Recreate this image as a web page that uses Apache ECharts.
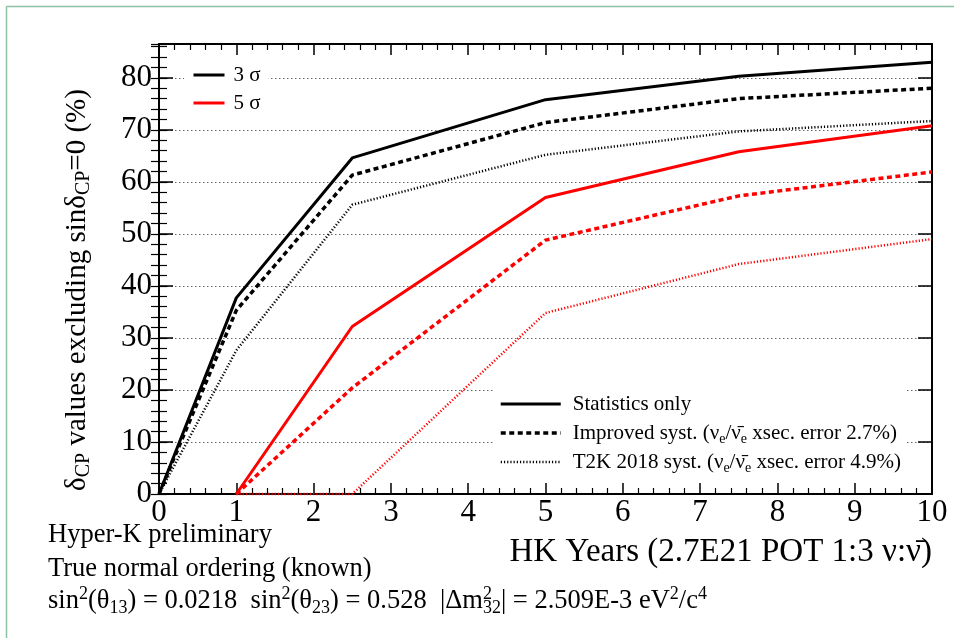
<!DOCTYPE html>
<html>
<head>
<meta charset="utf-8">
<script src="https://cdn.jsdelivr.net/npm/echarts@6/dist/echarts.min.js"></script>
<style>
  html, body { margin: 0; padding: 0; background: #fff; }
  #chart { width: 954px; height: 638px; }
</style>
</head>
<body>
<div id="chart"></div>
<script>
// HK running time in years
const yearsAll = [0, 1, 2.5, 5, 7.5, 10];
const years5 = [1, 2.5, 5, 7.5, 10];

// Fraction of delta_CP values excluding sin(delta_CP)=0, in percent
const sig3Stat     = [0, 37.7, 64.6, 75.8, 80.3, 83.0];
const sig3Improved = [0, 35.3, 61.3, 71.4, 76.0, 78.0];
const sig3T2K      = [0, 27.6, 55.6, 65.2, 69.7, 71.7];
const sig5Stat     = [0, 32.2, 57.0, 65.8, 70.8];
const sig5Improved = [0, 20.4, 48.8, 57.3, 61.9];
const sig5T2K      = [0, 0, 34.8, 44.2, 49.0];

const xTicks = [0, 1, 2, 3, 4, 5, 6, 7, 8, 9, 10];
const yTicks = [0, 10, 20, 30, 40, 50, 60, 70, 80];

const sigmaNames = ['3 σ', '5 σ'];
const systNames = ['Statistics only', 'Improved syst.', 'T2K 2018 syst.'];
const systLabels = {
  'Statistics only': 'Statistics only',
  'Improved syst.': 'Improved syst. (ν{sb|e}/ν\u0304{sb|e} xsec. error 2.7%)',
  'T2K 2018 syst.': 'T2K 2018 syst. (ν{sb|e}/ν\u0304{sb|e} xsec. error 4.9%)'
};

const FONT = '"Liberation Serif", "DejaVu Serif", serif';
const RED = '#ff0000';
const BLACK = '#000000';

const SOLID = { width: 3, type: 'solid' };
const DASHED = { width: 3.5, type: [5, 3.5] };
const DOTTED = { width: 2.5, type: [1.2, 2] };

function pairs(xs, ys) {
  return xs.map((x, i) => [x, ys[i]]);
}

function curve(name, xs, ys, color, style) {
  return {
    name: name,
    type: 'line',
    data: pairs(xs, ys),
    symbol: 'none',
    clip: false,
    lineStyle: Object.assign({ color: color, cap: 'butt' }, style),
    itemStyle: { color: color },
    z: 3
  };
}

function legendOnly(name, color, style) {
  return {
    name: name,
    type: 'line',
    data: [],
    symbol: 'none',
    lineStyle: Object.assign({ color: color }, style),
    itemStyle: { color: color }
  };
}

const majorTickX = { show: true, inside: true, length: 11, lineStyle: { color: BLACK, width: 1.5 } };
const minorTickX = { show: true, splitNumber: 5, length: 6, lineStyle: { color: BLACK, width: 1.2 } };
const frameLine = { show: true, onZero: false, lineStyle: { color: BLACK, width: 2 } };

const chart = echarts.init(document.getElementById('chart'), null, { renderer: 'canvas' });

const option = {
  backgroundColor: '#ffffff',
  animation: false,
  grid: { left: 159, right: 22, top: 44, bottom: 144, containLabel: false, outerBoundsMode: 'none' },
  xAxis: [
    {
      type: 'value', min: xTicks[0], max: xTicks[xTicks.length - 1], interval: 1, position: 'bottom',
      axisLine: frameLine, axisTick: majorTickX, minorTick: minorTickX,
      splitLine: { show: false },
      axisLabel: { show: true, margin: 3, color: BLACK, fontFamily: FONT, fontSize: 31 }
    },
    {
      type: 'value', min: xTicks[0], max: xTicks[xTicks.length - 1], interval: 1, position: 'top',
      axisLine: frameLine, axisTick: majorTickX, minorTick: minorTickX,
      splitLine: { show: false }, axisLabel: { show: false }
    }
  ],
  yAxis: [
    {
      type: 'value', min: yTicks[0], max: 86.5, interval: 10, position: 'left',
      axisLine: frameLine,
      axisTick: { show: true, inside: true, length: 14, lineStyle: { color: BLACK, width: 1.5 } },
      splitLine: { show: true, lineStyle: { color: '#666666', width: 1, type: [1.5, 2.5] } },
      axisLabel: {
        show: true, margin: 7, color: BLACK, fontFamily: FONT, fontSize: 31,
        showMaxLabel: false,
        formatter: (v) => (yTicks.indexOf(v) >= 0 ? String(v) : '')
      }
    },
    {
      type: 'value', min: yTicks[0], max: 86.5, interval: 2, position: 'left',
      axisLine: { show: false },
      axisTick: { show: true, inside: true, length: 8, lineStyle: { color: BLACK, width: 1.2 } },
      splitLine: { show: false }, axisLabel: { show: false }
    },
    {
      type: 'value', min: yTicks[0], max: 86.5, interval: 10, position: 'right',
      axisLine: frameLine,
      axisTick: { show: true, inside: true, length: 14, lineStyle: { color: BLACK, width: 1.5 } },
      splitLine: { show: false }, axisLabel: { show: false }
    },
    {
      type: 'value', min: yTicks[0], max: 86.5, interval: 2, position: 'right',
      axisLine: { show: false },
      axisTick: { show: true, inside: true, length: 8, lineStyle: { color: BLACK, width: 1.2 } },
      splitLine: { show: false }, axisLabel: { show: false }
    }
  ],
  legend: [
    {
      data: sigmaNames,
      orient: 'vertical',
      left: 184, top: 59,
      padding: [3, 8, 3, 8],
      itemWidth: 31, itemHeight: 14, itemGap: 2,
      itemStyle: { opacity: 0 },
      lineStyle: { width: 'inherit', type: 'inherit' },
      backgroundColor: '#ffffff',
      selectedMode: false,
      textStyle: { color: BLACK, fontFamily: FONT, fontSize: 21, lineHeight: 26, padding: [0, 0, 0, 4] }
    },
    {
      data: systNames,
      orient: 'vertical',
      left: 494, top: 386,
      padding: [5, 5, 5, 5],
      itemWidth: 60, itemHeight: 14, itemGap: 3,
      itemStyle: { opacity: 0 },
      lineStyle: { width: 'inherit', type: 'inherit' },
      backgroundColor: '#ffffff',
      selectedMode: false,
      formatter: (name) => systLabels[name],
      textStyle: {
        color: BLACK, fontFamily: FONT, fontSize: 21, lineHeight: 26, padding: [0, 0, 0, 7],
        rich: {
          sb: { fontFamily: FONT, fontSize: 14, lineHeight: 14, verticalAlign: 'bottom', color: BLACK }
        }
      }
    }
  ],
  series: [
    curve('3σ T2K', yearsAll, sig3T2K, BLACK, DOTTED),
    curve('3σ improved', yearsAll, sig3Improved, BLACK, DASHED),
    curve('3σ stat', yearsAll, sig3Stat, BLACK, SOLID),
    curve('5σ T2K', years5, sig5T2K, RED, DOTTED),
    curve('5σ improved', years5, sig5Improved, RED, DASHED),
    curve('5σ stat', years5, sig5Stat, RED, SOLID),
    legendOnly('3 σ', BLACK, SOLID),
    legendOnly('5 σ', RED, SOLID),
    legendOnly('Statistics only', BLACK, SOLID),
    legendOnly('Improved syst.', BLACK, DASHED),
    legendOnly('T2K 2018 syst.', BLACK, DOTTED)
  ],
  graphic: [
    // thin green page frame
    { type: 'line', shape: { x1: 6.5, y1: 6.5, x2: 954, y2: 6.5 }, style: { stroke: '#8cc3a6', lineWidth: 1.5 }, silent: true },
    { type: 'line', shape: { x1: 6.5, y1: 6.5, x2: 6.5, y2: 638 }, style: { stroke: '#8cc3a6', lineWidth: 1.5 }, silent: true },
    // y axis title
    {
      type: 'text', x: 77, y: 290, rotation: Math.PI / 2, silent: true,
      style: {
        text: 'δ{s|CP} values excluding sinδ{s|CP}=0 (%)',
        fontFamily: FONT, fontSize: 29, lineHeight: 34, fill: BLACK,
        align: 'center', verticalAlign: 'middle',
        rich: { s: { fontFamily: FONT, fontSize: 20, lineHeight: 18, verticalAlign: 'bottom', fill: BLACK, color: BLACK } }
      }
    },
    // x axis title
    {
      type: 'text', x: 932, y: 552, silent: true,
      style: {
        text: 'HK Years (2.7E21 POT 1:3 ν:ν\u0304)',
        fontFamily: FONT, fontSize: 33, fill: BLACK, align: 'right', verticalAlign: 'middle'
      }
    },
    // annotations below the frame
    {
      type: 'text', x: 48, y: 535, silent: true,
      style: { text: 'Hyper-K preliminary', fontFamily: FONT, fontSize: 26.5, fill: BLACK, align: 'left', verticalAlign: 'middle' }
    },
    {
      type: 'text', x: 48, y: 569, silent: true,
      style: { text: 'True normal ordering (known)', fontFamily: FONT, fontSize: 26.5, fill: BLACK, align: 'left', verticalAlign: 'middle' }
    },
    {
      type: 'text', x: 48, y: 601, silent: true,
      style: {
        text: 'sin{sp|2}(θ{sb|13}) = 0.0218  sin{sp|2}(θ{sb|23}) = 0.528  |Δm{sz|2}{sb|32}| = 2.509E-3 eV{sp|2}/c{sp|4}',
        fontFamily: FONT, fontSize: 26.5, lineHeight: 32, fill: BLACK, align: 'left', verticalAlign: 'middle',
        rich: {
          sp: { fontFamily: FONT, fontSize: 18, lineHeight: 18, verticalAlign: 'top', fill: BLACK, color: BLACK },
          sz: { fontFamily: FONT, fontSize: 18, lineHeight: 18, verticalAlign: 'top', width: 0.01, fill: BLACK, color: BLACK },
          sb: { fontFamily: FONT, fontSize: 18, lineHeight: 18, verticalAlign: 'bottom', fill: BLACK, color: BLACK }
        }
      }
    }
  ]
};

chart.setOption(option);
</script>
</body>
</html>
